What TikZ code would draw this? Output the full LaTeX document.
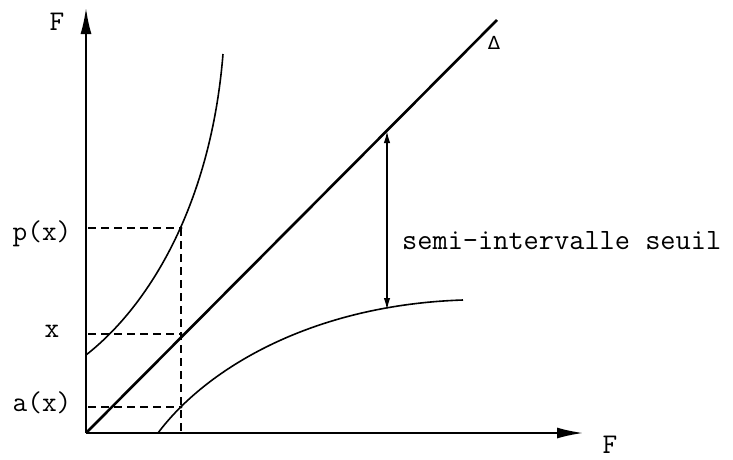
\documentclass[tikz,border=0pt]{standalone}
\usepackage{fontspec}
\newfontfamily\deltafont{DejaVu Sans}
\usetikzlibrary{arrows.meta}
\begin{document}
\begin{tikzpicture}[x=1pt,y=-1pt,
  lbl/.style={inner sep=0pt,font=\ttfamily\addfontfeature{FakeBold=2.5}\fontsize{28.5}{30}\selectfont},
  axis/.style={line width=1.8pt,-{Latex[length=26pt,width=11pt]}},
  curve/.style={line width=1.6pt},
  dline/.style={line width=1.6pt,dash pattern=on 8pt off 5pt},
  dbl/.style={line width=1.6pt,{Latex[length=12pt,width=6.5pt]}-{Latex[length=12pt,width=6.5pt]}}]
\useasboundingbox (0,0) rectangle (733,459);
\coordinate (O) at (86,433);
\coordinate (Ytop) at (86,8);
\coordinate (Xend) at (583,433);
\draw[axis] (O) -- (Ytop);
\draw[axis] (O) -- (Xend);
\node[lbl] (Fy) at (57,22) {F};
\node[lbl] (Fx) at (610,445) {F};
% diagonal
\coordinate (Dend) at (497,20);
\draw[line width=2.6pt] (O) -- (Dend);
\node[inner sep=0pt,font=\deltafont\fontsize{18}{19}\selectfont] (Delta) at (494,43) {Δ};
% upper curve
\coordinate (U0) at (86,355);
\coordinate (U1) at (223,54);
\draw[curve] (U0) .. controls (150,305) and (211,203) .. (U1);
% lower curve
\coordinate (L0) at (158,433);
\coordinate (L1) at (463,300);
\draw[curve] (L0) .. controls (205,370) and (310,305) .. (L1);
% dashed
\coordinate (P) at (181,228);
\coordinate (Xp) at (181,334);
\coordinate (A) at (181,407);
\coordinate (Pb) at (181,433);
\coordinate (Py) at (88,228);
\coordinate (Xy) at (88,334);
\coordinate (Ay) at (88,407);
\draw[dline] (Py) -- (P);
\draw[dline] (Xy) -- (Xp);
\draw[dline] (Ay) -- (A);
\draw[dline] (P) -- (Pb);
\fill (P) circle (1.6pt);
\fill (Xp) circle (1.6pt);
\fill (A) circle (1.6pt);
% labels
\node[lbl] (pl) at (42,234) {p(x)};
\node[lbl] (xl) at (52,331) {x};
\node[lbl] (al) at (42,403) {a(x)};
% double arrow
\coordinate (T) at (387,131);
\coordinate (B) at (387,310);
\draw[dbl] (T) -- (B);
\node[lbl,anchor=west,font=\ttfamily\addfontfeature{FakeBold=2.5}\fontsize{29.5}{31}\selectfont] (semi) at (402,241) {semi-intervalle seuil};
\end{tikzpicture}
\end{document}
